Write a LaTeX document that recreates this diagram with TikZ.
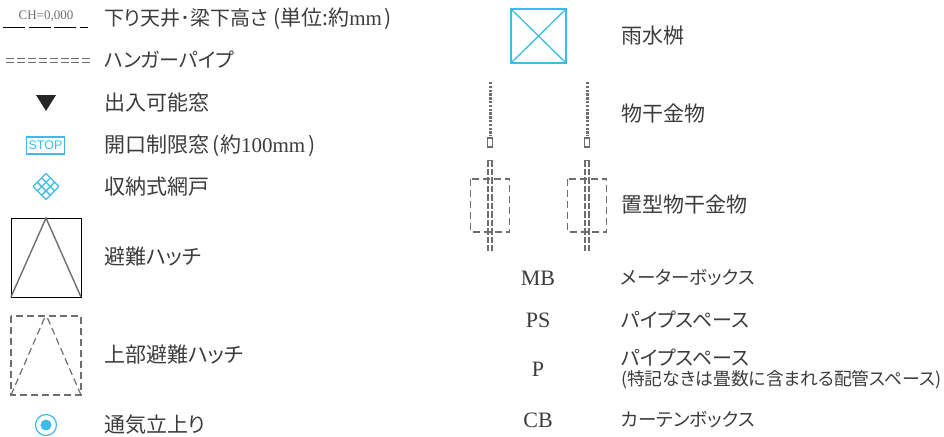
\documentclass[tikz,border=0pt]{standalone}
\usepackage{fontspec}
\setmainfont{Liberation Serif}
\setsansfont{Liberation Sans}
\newfontfamily\jpfont[RawFeature=+palt]{Noto Sans CJK JP}
\usetikzlibrary{positioning}
\definecolor{symblue}{HTML}{3DBBEA}
\definecolor{symgray}{HTML}{6E6E6E}
\definecolor{txtgray}{HTML}{3C3C3C}
\tikzset{
  every node/.style={inner sep=0pt, outer sep=0pt, text=txtgray},
  lab/.style={anchor=west, font=\jpfont\fontsize{21}{24}\selectfont},
  labsmall/.style={anchor=west, font=\jpfont\fontsize{18.5}{21}\selectfont},
  labkana/.style={anchor=west, font=\jpfont\fontsize{20}{24}\selectfont},
  abbr/.style={anchor=center, font=\fontsize{22}{24}\selectfont},
  blueline/.style={draw=symblue, line width=1.3pt},
  grayline/.style={draw=symgray, line width=1.4pt},
  dashline/.style={draw=symgray, line width=1.2pt, dash pattern=on 7pt off 4pt}
}
\begin{document}
\begin{tikzpicture}[x=1pt,y=-1pt]
\useasboundingbox (0,0) rectangle (944,436);
% left column
\node[font=\fontsize{13}{14}\selectfont, text=symgray] (chtext) at (46,16) {CH=0,000};
\draw[draw=black, line width=0.9pt, dash pattern=on 22pt off 3.5pt] (3,27) -- (88,27);
\foreach \y in {58.5,62.5}
  \draw[draw=symgray, line width=1pt, dash pattern=on 8pt off 2.9pt] (6,\y) -- (90,\y);
\fill[black!85] (36,95) -- (56,95) -- (46,111) -- cycle;
\node[draw=symblue, line width=1.1pt, minimum width=38pt, minimum height=17pt,
  font=\sffamily\fontsize{12.5}{14}\selectfont, text=symblue] (stopbox) at (45.5,145.5) {STOP};
\begin{scope}[shift={(46,186.5)}, blueline]
  \foreach \u in {-13,-4.33,4.33,13} {
    \draw ({(\u-13)/2},{(-13-\u)/2}) -- ({(\u+13)/2},{(13-\u)/2});
    \draw ({(\u-13)/2},{(13+\u)/2}) -- ({(\u+13)/2},{(\u-13)/2});
  }
\end{scope}
\draw[black, line width=1pt] (11,218) rectangle (81,297);
\draw[grayline] (11,297) -- (46,218) -- (81,297);
\draw[dashline] (11,316) rectangle (81,395);
\draw[dashline] (11,395) -- (44.5,318);
\draw[dashline] (81,395) -- (47.5,318);
\node[circle, draw=symblue, line width=1.2pt, minimum size=21pt] (ventout) at (46,425) {};
\node[circle, fill=symblue, minimum size=11pt] (ventin) at (46,425) {};
% right column symbols
\draw[blueline, line width=1.5pt] (511,9) rectangle (566,63);
\draw[blueline] (511,9) -- (566,63) (566,9) -- (511,63);
\foreach \x in {490,587} {
  \draw[draw=symgray, line width=3pt, dash pattern=on 2.4pt off 1.4pt] (\x,82) -- (\x,136);
  \draw[draw=symgray, line width=1.1pt, fill=white] (\x-2.8,138) rectangle (\x+2.8,147);
  \draw[dashline] (\x-19.5,179) rectangle (\x+19.5,232);
  \draw[draw=symgray, line width=1.1pt] (\x-2.2,160.5) -- (\x+2.2,160.5);
  \foreach \s in {-1.8,1.8}
    \draw[draw=symgray, line width=1.6pt, dash pattern=on 6.5pt off 2pt] (\x+\s,160) -- (\x+\s,251);
}
% labels left
\node[lab] (lab1) at (104,19) {{\fontsize{20}{24}\selectfont 下り天井･梁下高さ}\hspace{5pt}(単位:約{\rmfamily mm}\hspace{2pt})};
\node[labkana] (lab2) at (104,60) {ハンガーパイプ};
\node[lab] (lab3) at (104,103) {出入可能窓};
\node[lab] (lab4) at (104,146) {開口制限窓\hspace{4pt}(約{\rmfamily 100mm}\hspace{3pt})};
\node[lab] (lab5) at (104,187) {収納式網戸};
\node[lab] (lab6) at (104,257) {避難ハッチ};
\node[lab] (lab7) at (104,355) {上部避難ハッチ};
\node[lab] (lab8) at (104,425) {通気立上り};
% labels right
\node[lab] (lab9) at (621,36) {雨水桝};
\node[lab] (lab10) at (621,114) {物干金物};
\node[lab] (lab11) at (621,205) {置型物干金物};
\node[abbr] (mb) at (538,278) {MB};
\node[abbr] (ps) at (538,320) {PS};
\node[abbr] (p) at (538,369) {P};
\node[abbr] (cb) at (538,420) {CB};
\node[labsmall] (lab12) at (621,278) {メーターボックス};
\node[labkana] (lab13) at (621,320) {パイプスペース};
\node[labkana] (lab14) at (621,358) {パイプスペース};
\node[labsmall, font=\jpfont\fontsize{17.8}{20}\selectfont] (lab15) at (621,380) {(特記なきは畳数に含まれる配管スペース)};
\node[labsmall] (lab16) at (621,420) {カーテンボックス};
\end{tikzpicture}
\end{document}
